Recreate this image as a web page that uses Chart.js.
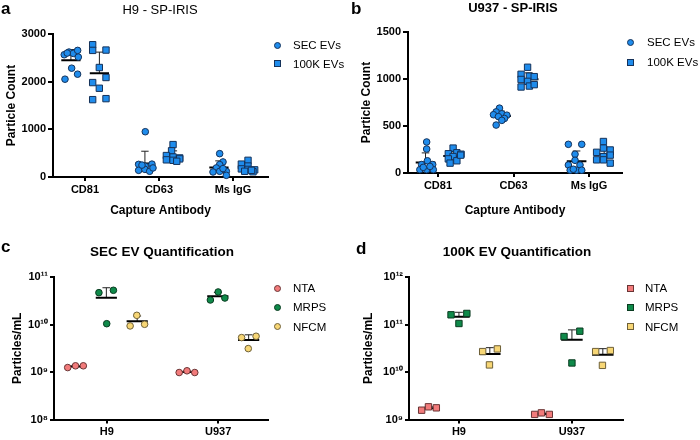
<!DOCTYPE html>
<html>
<head>
<meta charset="utf-8">
<title>EV quantification</title>
<script src="https://cdn.jsdelivr.net/npm/chart.js@4.4.1/dist/chart.umd.min.js"></script>
<style>
  body { margin: 0; background: #fff; }
  #fig { position: relative; width: 700px; height: 440px; font-family: 'Liberation Sans', Arial, sans-serif; color: #000; overflow: hidden; }
  canvas { position: absolute; }
  .txt { position: absolute; white-space: nowrap; }
  .letter { font-size: 17px; font-weight: bold; line-height: 20px; }
  .title { font-size: 13px; line-height: 16px; transform: translateX(-50%); }
  .leg { position: absolute; font-size: 11.5px; line-height: 14px; white-space: nowrap; }
  .mk { position: absolute; width: 7px; height: 7px; box-sizing: border-box; border: 1px solid; }
  .mk.round { border-radius: 50%; }
</style>
</head>
<body>
<div id="fig">
  <canvas id="chartA" width="350" height="220" style="left:0;top:0"></canvas>
  <canvas id="chartB" width="350" height="220" style="left:350px;top:0"></canvas>
  <canvas id="chartC" width="350" height="220" style="left:0;top:220px"></canvas>
  <canvas id="chartD" width="350" height="220" style="left:350px;top:220px"></canvas>

  <div class="txt letter" style="left:1px;top:-1px">a</div>
  <div class="txt letter" style="left:351px;top:-1px">b</div>
  <div class="txt letter" style="left:1px;top:237px">c</div>
  <div class="txt letter" style="left:356px;top:239px">d</div>

  <div class="txt title" style="left:160px;top:2px">H9 - SP-IRIS</div>
  <div class="txt title" style="left:513px;top:0;font-weight:bold">U937 - SP-IRIS</div>
  <div class="txt title" style="left:162px;top:244px;font-weight:bold;font-size:13.5px">SEC EV Quantification</div>
  <div class="txt title" style="left:517px;top:244px;font-weight:bold;font-size:13.5px">100K EV Quantification</div>
</div>

<script>
// categories
const antibodies = ['CD81', 'CD63', 'Ms IgG'];
const cellLines = ['H9', 'U937'];
const methods = ['NTA', 'MRPS', 'NFCM'];
const isolations = ['SEC EVs', '100K EVs'];

// tick labels
const countTicksH9 = [0, 1000, 2000, 3000];
const countTicksU937 = [0, 500, 1000, 1500];
const logTicksSec = [1e8, 1e9, 1e10, 1e11];
const logTicks100k = [1e9, 1e10, 1e11, 1e12];

// SP-IRIS particle counts, one list per capture antibody (CD81, CD63, Ms IgG)
const h9Sec = [
    [2565, 2621, 2593, 2656, 2515, 2283, 2157, 2052, 2600],
    [950, 265, 270, 225, 140, 160, 120, 190, 250],
    [490, 316, 260, 190, 105, 119, 119, 35, 176]
];
const h9K100 = [
    [2775, 2656, 2663, 2297, 2087, 1981, 1862, 1623, 1644],
    [680, 550, 450, 420, 400, 360, 350, 380, 330],
    [350, 270, 230, 170, 160, 150, 120, 110, 140]
];
const u937Sec = [
    [330, 255, 130, 90, 90, 35, 35, 35, 60, 70],
    [690, 650, 630, 620, 615, 600, 580, 560, 510],
    [305, 305, 200, 135, 85, 85, 30, 30, 30, 40]
];
const u937K100 = [
    [265, 205, 215, 200, 175, 150, 130, 105, 190],
    [1125, 1050, 1030, 1025, 995, 975, 915, 925, 940],
    [335, 265, 245, 220, 190, 175, 140, 140, 105]
];

// horizontal scatter of each dot around its antibody (category units)
const h9SecX = [
    [-0.28, -0.216, -0.158, -0.099, -0.09, -0.18, -0.10, -0.27, -0.24],
    [-0.185, -0.275, -0.095, -0.185, -0.275, -0.19, -0.126, -0.081, -0.23],
    [-0.18, -0.135, -0.18, -0.225, -0.27, -0.18, -0.09, -0.09, -0.135]
];
const h9K100X = [
    [0.104, 0.104, 0.284, 0.194, 0.284, 0.104, 0.194, 0.104, 0.284],
    [0.19, 0.17, 0.10, 0.19, 0.28, 0.10, 0.19, 0.28, 0.24],
    [0.203, 0.113, 0.203, 0.113, 0.203, 0.293, 0.158, 0.27, 0.25]
];
const u937SecX = [
    [-0.15, -0.15, -0.14, -0.217, -0.07, -0.24, -0.15, -0.062, -0.195, -0.106],
    [-0.186, -0.23, -0.155, -0.265, -0.088, -0.20, -0.12, -0.155, -0.23],
    [-0.274, -0.097, -0.186, -0.186, -0.274, -0.12, -0.25, -0.164, -0.097, -0.208]
];
const u937K100X = [
    [0.20, 0.137, 0.25, 0.305, 0.20, 0.137, 0.25, 0.16, 0.30],
    [0.186, 0.10, 0.21, 0.274, 0.10, 0.186, 0.10, 0.21, 0.274],
    [0.19, 0.19, 0.28, 0.10, 0.28, 0.19, 0.10, 0.19, 0.28]
];

// particles/mL, one list per cell line (H9, U937)
const secNta = [[1.24e9, 1.35e9, 1.35e9], [9.75e8, 1.06e9, 9.75e8]];
const secMrps = [[4.68e10, 5.25e10, 1.04e10], [3.28e10, 3.61e10, 4.84e10]];
const secNfcm = [[9.33e9, 1.56e10, 1.01e10], [5.3e9, 3.11e9, 5.66e9]];
const k100Nta = [[1.57e9, 1.85e9, 1.76e9], [1.28e9, 1.38e9, 1.28e9]];
const k100Mrps = [[1.6e11, 1.71e11, 1.05e11], [5.58e10, 7.23e10, 1.55e10]];
const k100Nfcm = [[2.69e10, 3.06e10, 1.41e10], [2.69e10, 2.83e10, 1.38e10]];

// dot offsets per method (NTA, MRPS, NFCM)
const secX = [[-0.35, -0.28, -0.21], [-0.07, 0.06, 0], [0.21, 0.27, 0.34]];
const k100X = [[-0.33, -0.27, -0.20], [-0.07, 0.07, 0], [0.21, 0.34, 0.27]];

const blue = '#1f8cec', blueEdge = '#15325a';
const methodFill = ['#f27b7b', '#0f8a4a', '#f7d675'];
const methodEdge = ['#6a3535', '#0a3b20', '#6e6038'];

Chart.defaults.font.family = "'Liberation Sans', Arial, sans-serif";
Chart.defaults.color = '#000';

function spread(groups, xs) {
    const pts = [];
    groups.forEach((vals, i) => vals.forEach((v, j) => pts.push({ x: i + xs[i][j], y: v })));
    return pts;
}

// mean line plus upper SD whisker for every group
function summary(groups, shift, halfMean, halfCap) {
    const mean = [], err = [];
    groups.forEach((vals, i) => {
        const m = vals.reduce((s, v) => s + v, 0) / vals.length;
        const sd = Math.sqrt(vals.reduce((s, v) => s + (v - m) ** 2, 0) / (vals.length - 1));
        const c = i + shift;
        mean.push({ x: c - halfMean, y: m }, { x: c + halfMean, y: m }, { x: c, y: null });
        err.push({ x: c, y: m }, { x: c, y: m + sd }, { x: c, y: null },
                 { x: c - halfCap, y: m + sd }, { x: c + halfCap, y: m + sd }, { x: c, y: null });
    });
    return [lineSet(mean, 2, '#000'), lineSet(err, 1, '#222')];
}

function dotSet(data, style, radius, fill, edge) {
    return {
        data, pointStyle: style, pointRadius: radius, backgroundColor: fill,
        borderColor: edge, borderWidth: 1, clip: false, order: 0
    };
}

function lineSet(data, width, color) {
    return {
        data, showLine: true, spanGaps: false, pointRadius: 0, borderColor: color,
        borderWidth: width, clip: false, order: 1
    };
}

const sup = { '0': '\u2070', '1': '\u00b9', '2': '\u00b2', '8': '\u2078', '9': '\u2079' };
const powerLabel = v => '10' + String(Math.round(Math.log10(v))).split('').map(d => sup[d]).join('');

function buildChart(id, p) {
    new Chart(document.getElementById(id), {
        type: 'scatter',
        data: { datasets: p.datasets },
        options: {
            responsive: false,
            animation: false,
            events: [],
            layout: { padding: { left: 0, top: p.top, right: p.right, bottom: 0 } },
            plugins: { legend: { display: false }, tooltip: { enabled: false } },
            scales: {
                x: {
                    type: 'linear', min: p.xMin, max: p.xMax,
                    afterBuildTicks: s => { s.ticks = p.xLabels.map((_, i) => ({ value: i })); },
                    afterFit: s => { s.height = p.xHeight; },
                    ticks: {
                        callback: v => p.xLabels[v], font: { size: 11, weight: 'bold' },
                        color: '#000', padding: 2, maxRotation: 0, autoSkip: false
                    },
                    grid: { drawOnChartArea: false, tickLength: 4, lineWidth: 2, color: '#000' },
                    border: { color: '#000', width: 2 },
                    title: {
                        display: !!p.xTitle, text: p.xTitle, font: { size: 12, weight: 'bold' },
                        color: '#000', padding: { top: 0, bottom: 2 }
                    }
                },
                y: {
                    type: p.yType, min: p.yTicks[0], max: p.yTicks[p.yTicks.length - 1],
                    afterBuildTicks: s => { s.ticks = p.yTicks.map(v => ({ value: v })); },
                    afterFit: s => { s.width = p.yWidth; },
                    ticks: { callback: p.yFormat, font: { size: 11, weight: 'bold' }, color: '#000', padding: 2 },
                    grid: { drawOnChartArea: false, tickLength: p.yTickLength, lineWidth: 2, color: '#000' },
                    border: { color: '#000', width: 2 },
                    title: {
                        display: true, text: p.yTitle, font: { size: 12, weight: 'bold' },
                        color: '#000', padding: { top: p.yTitlePad, bottom: 0 }
                    }
                }
            }
        }
    });
}

function irisSets(sec, secXs, k100, k100Xs, secShift, k100Shift) {
    return [
        dotSet(spread(sec, secXs), 'circle', 3.3, blue, blueEdge),
        dotSet(spread(k100, k100Xs), 'rect', 4.5, blue, blueEdge),
        ...summary(sec, secShift, 0.13, 0.05),
        ...summary(k100, k100Shift, 0.13, 0.05)
    ];
}

function quantSets(series, xs, style, radius) {
    const sets = [];
    series.forEach((groups, k) => {
        sets.push(dotSet(spread(groups, [xs[k], xs[k]]), style, radius, methodFill[k], methodEdge[k]));
        const shift = xs[k].reduce((s, v) => s + v, 0) / xs[k].length;
        sets.push(...summary(groups, shift, 0.095, 0.035));
    });
    return sets;
}

buildChart('chartA', {
    datasets: irisSets(h9Sec, h9SecX, h9K100, h9K100X, -0.19, 0.195),
    top: 34, right: 82, xHeight: 43, yWidth: 53, xMin: -0.432, xMax: 2.473,
    xLabels: antibodies, xTitle: 'Capture Antibody',
    yType: 'linear', yTicks: countTicksH9, yFormat: v => String(v), yTickLength: 5,
    yTitle: 'Particle Count', yTitlePad: 4
});

buildChart('chartB', {
    datasets: irisSets(u937Sec, u937SecX, u937K100, u937K100X, -0.165, 0.2),
    top: 32, right: 78, xHeight: 47, yWidth: 58, xMin: -0.397, xMax: 2.436,
    xLabels: antibodies, xTitle: 'Capture Antibody',
    yType: 'linear', yTicks: countTicksU937, yFormat: v => String(v), yTickLength: 5,
    yTitle: 'Particle Count', yTitlePad: 9
});

buildChart('chartC', {
    datasets: quantSets([secNta, secMrps, secNfcm], secX, 'circle', 3.3),
    top: 57, right: 82, xHeight: 20.5, yWidth: 54, xMin: -0.473, xMax: 1.447,
    xLabels: cellLines, xTitle: '',
    yType: 'logarithmic', yTicks: logTicksSec, yFormat: powerLabel, yTickLength: 4,
    yTitle: 'Particles/mL', yTitlePad: 10
});

buildChart('chartD', {
    datasets: quantSets([k100Nta, k100Mrps, k100Nfcm], k100X, 'rect', 4.5),
    top: 57, right: 77, xHeight: 20.5, yWidth: 59, xMin: -0.442, xMax: 1.452,
    xLabels: cellLines, xTitle: '',
    yType: 'logarithmic', yTicks: logTicks100k, yFormat: powerLabel, yTickLength: 4,
    yTitle: 'Particles/mL', yTitlePad: 11
});

// legends
const fig = document.getElementById('fig');
function legend(x, y, textX, gap, items) {
    items.forEach((it, k) => {
        const cy = y + k * gap;
        const mk = document.createElement('div');
        mk.className = 'mk' + (it.square ? '' : ' round');
        mk.style.left = (x - 3.5) + 'px';
        mk.style.top = (cy - 3.5) + 'px';
        mk.style.background = it.fill;
        mk.style.borderColor = it.edge;
        fig.appendChild(mk);
        const tx = document.createElement('div');
        tx.className = 'leg';
        tx.textContent = it.text;
        tx.style.left = textX + 'px';
        tx.style.top = (cy - 7) + 'px';
        fig.appendChild(tx);
    });
}

const irisItems = isolations.map((t, k) => ({ text: t, square: k === 1, fill: blue, edge: blueEdge }));
legend(277, 45, 293, 18.5, irisItems);
legend(630, 42, 647, 20, irisItems);
legend(277, 288, 293, 19.3, methods.map((t, k) => ({ text: t, square: false, fill: methodFill[k], edge: methodEdge[k] })));
legend(630, 288, 645, 19.3, methods.map((t, k) => ({ text: t, square: true, fill: methodFill[k], edge: methodEdge[k] })));
</script>
</body>
</html>
